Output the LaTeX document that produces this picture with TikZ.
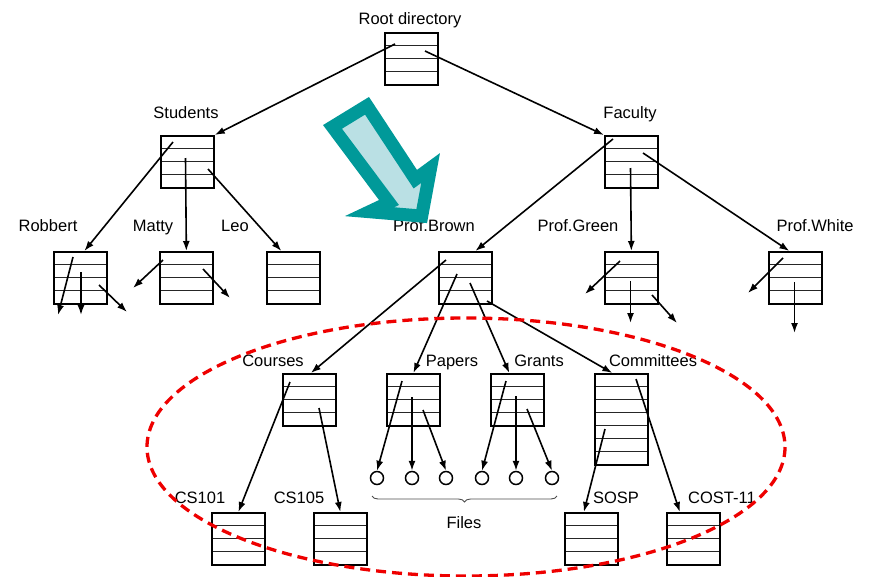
\documentclass[tikz,border=0pt]{standalone}
\usepackage{fontspec}
\setmainfont{Liberation Sans}
\usetikzlibrary{arrows.meta,calc,decorations.pathreplacing}
\definecolor{tealline}{RGB}{0,153,153}
\definecolor{tealfill}{RGB}{186,224,228}
\definecolor{reddash}{RGB}{238,0,0}
\begin{document}
\begin{tikzpicture}[x=1pt,y=-1pt,
  rowlines/.style={path picture={\foreach \i in {1,...,#1}{\draw[line width=1.2pt, black!85]
     ($(path picture bounding box.north west)!{\i/(#1+1)}!(path picture bounding box.south west)$) --
     ($(path picture bounding box.north east)!{\i/(#1+1)}!(path picture bounding box.south east)$);}}},
  dbox/.style={draw, line width=1.7pt, rectangle, inner sep=0pt, minimum width=53pt,
     minimum height=52pt, anchor=north west, rowlines=3},
  dboxseven/.style={dbox, minimum height=91pt, rowlines=6},
  lab/.style={anchor=base, inner sep=0pt, font=\fontsize{16.5}{18}\selectfont},
  conn/.style={line width=1.6pt, -{Latex[length=10pt,width=7pt]}},
  fcirc/.style={draw, circle, line width=1.5pt, minimum size=13pt, inner sep=0pt}]
\useasboundingbox (0,0) rectangle (869,576);

% labels
\node[lab] (lroot) at (410,24) {Root directory};
\node[lab] (lstud) at (186,118) {Students};
\node[lab] (lfac) at (630,118) {Faculty};
\node[lab] (lrob) at (48,231) {Robbert};
\node[lab] (lmat) at (153,231) {Matty};
\node[lab] (lleo) at (235,231) {Leo};
\node[lab] (lbro) at (434,231) {Prof.Brown};
\node[lab] (lgre) at (578,231) {Prof.Green};
\node[lab] (lwhi) at (815,231) {Prof.White};
\node[lab] (lcou) at (273,366) {Courses};
\node[lab] (lpap) at (452,366) {Papers};
\node[lab] (lgra) at (539,366) {Grants};
\node[lab] (lcom) at (653,366) {Committees};
\node[lab] (lcs1) at (200,503) {CS101};
\node[lab] (lcs5) at (299,503) {CS105};
\node[lab] (lsos) at (616,503) {SOSP};
\node[lab] (lcst) at (722,503) {COST-11};
\node[lab] (lfil) at (464,528) {Files};

% directory boxes
\node[dbox] (root) at (384,32) {};
\node[dbox] (stud) at (160,135) {};
\node[dbox] (fac) at (604,135) {};
\node[dbox] (rob) at (53,251) {};
\node[dbox] (mat) at (159,251) {};
\node[dbox] (leo) at (266,251) {};
\node[dbox] (bro) at (438,251) {};
\node[dbox] (gre) at (604,251) {};
\node[dbox] (whi) at (768,251) {};
\node[dbox] (cou) at (282,373) {};
\node[dbox] (pap) at (386,373) {};
\node[dbox] (gra) at (490,373) {};
\node[dboxseven] (com) at (594,373) {};
\node[dbox] (cs1) at (211,512) {};
\node[dbox] (cs5) at (313,512) {};
\node[dbox] (sos) at (564,512) {};
\node[dbox] (cst) at (666,512) {};

% files
\node[fcirc] (fa) at (377,478) {};
\node[fcirc] (fb) at (412,478) {};
\node[fcirc] (fc) at (446,478) {};
\node[fcirc] (fd) at (482,478) {};
\node[fcirc] (fe) at (516,478) {};
\node[fcirc] (ff) at (552,478) {};

% start points inside boxes
\coordinate (r1) at (395,44);  \coordinate (r2) at (425,51);
\coordinate (s1) at (173,142); \coordinate (s2) at (185.5,158); \coordinate (s3) at (208,169);
\coordinate (f1) at (613,139); \coordinate (f2) at (630.5,168); \coordinate (f3) at (643,153);
\coordinate (b1) at (446,260); \coordinate (b2) at (457,274); \coordinate (b3) at (470,283); \coordinate (b4) at (487,301);
\coordinate (c1) at (290,382); \coordinate (c2) at (319,408);
\coordinate (p1) at (402,381); \coordinate (p2) at (412,397); \coordinate (p3) at (423,410);
\coordinate (g1) at (506,381); \coordinate (g2) at (516,396); \coordinate (g3) at (527,409);
\coordinate (m1) at (605,429); \coordinate (m2) at (636,379);
% dangling pointers
\coordinate (ra1) at (73,257);  \coordinate (ra2) at (58,315);
\coordinate (rb1) at (81,272);  \coordinate (rb2) at (81,315);
\coordinate (rc1) at (99,285);  \coordinate (rc2) at (127,312);
\coordinate (ma1) at (163,260); \coordinate (ma2) at (133,288);
\coordinate (mb1) at (203,269); \coordinate (mb2) at (230,298);
\coordinate (ga1) at (620,261); \coordinate (ga2) at (585,294);
\coordinate (gb1) at (630.5,281); \coordinate (gb2) at (630.5,323);
\coordinate (gc1) at (652,295); \coordinate (gc2) at (677,323);
\coordinate (wa1) at (783,258); \coordinate (wa2) at (748,293);
\coordinate (wb1) at (794.5,282); \coordinate (wb2) at (794.5,333);

% connectors
\draw[conn] (r1) -- (stud.north east);
\draw[conn] (r2) -- (fac.north west);
\draw[conn] (s1) -- ($(rob.north)+(4,0)$);
\draw[conn] (s2) -- (mat.north);
\draw[conn] (s3) -- ($(leo.north)+(-12,0)$);
\draw[conn] (f1) -- ($(bro.north)+(10,0)$);
\draw[conn] (f2) -- (gre.north);
\draw[conn] (f3) -- ($(whi.north)+(-6,0)$);
\draw[conn] (b1) -- ($(cou.north)+(1.5,0)$);
\draw[conn] (b2) -- (pap.north);
\draw[conn] (b3) -- ($(gra.north)+(-8,0)$);
\draw[conn] (b4) -- ($(com.north)+(-9,0)$);
\draw[conn] (c1) -- (cs1.north);
\draw[conn] (c2) -- (cs5.north);
\draw[conn] (p1) -- (fa.north);
\draw[conn] (p2) -- (fb.north);
\draw[conn] (p3) -- (fc.north);
\draw[conn] (g1) -- (fd.north);
\draw[conn] (g2) -- (fe.north);
\draw[conn] (g3) -- (ff.north);
\draw[conn] (m1) -- ($(sos.north)+(-7.5,0)$);
\draw[conn] (m2) -- ($(cst.north)+(-13.5,0)$);
\draw[conn] (ra1) -- (ra2);
\draw[conn] (rb1) -- (rb2);
\draw[conn] (rc1) -- (rc2);
\draw[conn] (ma1) -- (ma2);
\draw[conn] (mb1) -- (mb2);
\draw[conn] (ga1) -- (ga2);
\draw[conn] (gb1) -- (gb2);
\draw[conn] (gc1) -- (gc2);
\draw[conn] (wa1) -- (wa2);
\draw[conn] (wb1) -- (wb2);

% brace
\coordinate (bl) at (372,496);
\coordinate (br) at (557,496);
\draw[decorate, decoration={brace, amplitude=6pt, mirror}, line width=0.9pt, black!70] (bl) -- (br);

% red dashed ellipse
\coordinate (ec) at (466,447);
\draw[reddash, line width=3.3pt, dash pattern=on 10pt off 6pt] (ec) ellipse [x radius=319, y radius=129];

% teal block arrow
\draw[tealline, fill=tealfill, line width=13pt, line join=miter, miter limit=10]
  (332.5,126.9) -- (367,105.8) -- (415.3,179.2) -- (430.6,168) -- (421.7,216.1) -- (369.5,211.7) -- (389,202.5) -- cycle;
\end{tikzpicture}
\end{document}
